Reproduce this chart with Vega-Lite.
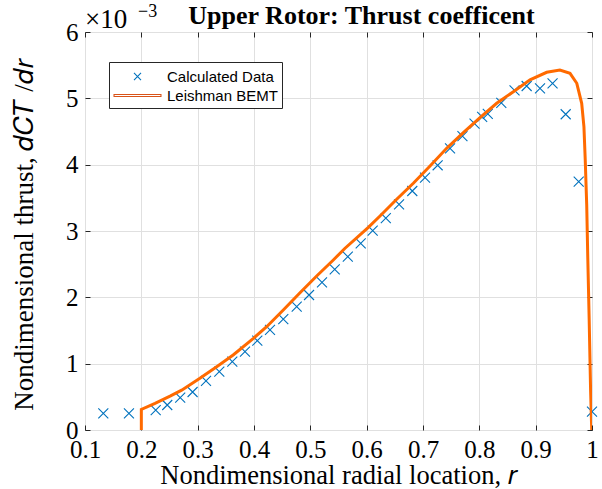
{
  "$schema": "https://vega.github.io/schema/vega-lite/v6.json",
  "width": 507,
  "height": 398,
  "autosize": {"type": "none"},
  "padding": {"left": 85, "top": 32, "right": 10, "bottom": 59},
  "background": "white",
  "config": {"view": {"stroke": "#262626", "strokeWidth": 1}},
  "title": {"text": "Upper Rotor: Thrust coefficent", "font": "Liberation Serif", "fontSize": 26, "fontWeight": "bold", "anchor": "middle", "frame": "group", "dx": 23, "baseline": "alphabetic", "offset": -47, "color": "black"},
  "datasets": {
    "calc": [
      {"r": 0.1325, "dct": 0.252, "series": "Calculated Data"},
      {"r": 0.178, "dct": 0.252, "series": "Calculated Data"},
      {"r": 0.2255, "dct": 0.30, "series": "Calculated Data"},
      {"r": 0.246, "dct": 0.377, "series": "Calculated Data"},
      {"r": 0.269, "dct": 0.487, "series": "Calculated Data"},
      {"r": 0.291, "dct": 0.573, "series": "Calculated Data"},
      {"r": 0.3148, "dct": 0.739, "series": "Calculated Data"},
      {"r": 0.3384, "dct": 0.879, "series": "Calculated Data"},
      {"r": 0.3615, "dct": 1.030, "series": "Calculated Data"},
      {"r": 0.384, "dct": 1.180, "series": "Calculated Data"},
      {"r": 0.4059, "dct": 1.346, "series": "Calculated Data"},
      {"r": 0.4284, "dct": 1.508, "series": "Calculated Data"},
      {"r": 0.452, "dct": 1.673, "series": "Calculated Data"},
      {"r": 0.4758, "dct": 1.859, "series": "Calculated Data"},
      {"r": 0.4977, "dct": 2.035, "series": "Calculated Data"},
      {"r": 0.5207, "dct": 2.227, "series": "Calculated Data"},
      {"r": 0.5433, "dct": 2.423, "series": "Calculated Data"},
      {"r": 0.5665, "dct": 2.613, "series": "Calculated Data"},
      {"r": 0.5894, "dct": 2.815, "series": "Calculated Data"},
      {"r": 0.6107, "dct": 3.005, "series": "Calculated Data"},
      {"r": 0.634, "dct": 3.195, "series": "Calculated Data"},
      {"r": 0.6575, "dct": 3.40, "series": "Calculated Data"},
      {"r": 0.681, "dct": 3.603, "series": "Calculated Data"},
      {"r": 0.7036, "dct": 3.804, "series": "Calculated Data"},
      {"r": 0.726, "dct": 3.991, "series": "Calculated Data"},
      {"r": 0.748, "dct": 4.247, "series": "Calculated Data"},
      {"r": 0.770, "dct": 4.43, "series": "Calculated Data"},
      {"r": 0.7915, "dct": 4.62, "series": "Calculated Data"},
      {"r": 0.805, "dct": 4.72, "series": "Calculated Data"},
      {"r": 0.815, "dct": 4.765, "series": "Calculated Data"},
      {"r": 0.839, "dct": 4.93, "series": "Calculated Data"},
      {"r": 0.8625, "dct": 5.12, "series": "Calculated Data"},
      {"r": 0.884, "dct": 5.186, "series": "Calculated Data"},
      {"r": 0.9077, "dct": 5.151, "series": "Calculated Data"},
      {"r": 0.930, "dct": 5.227, "series": "Calculated Data"},
      {"r": 0.9533, "dct": 4.76, "series": "Calculated Data"},
      {"r": 0.9764, "dct": 3.743, "series": "Calculated Data"},
      {"r": 1.0, "dct": 0.276, "series": "Calculated Data"}
    ],
    "bemt": [
      {"r": 0.2, "dct": 0},
      {"r": 0.2, "dct": 0.31},
      {"r": 0.2243, "dct": 0.40},
      {"r": 0.251, "dct": 0.51},
      {"r": 0.2716, "dct": 0.60},
      {"r": 0.304, "dct": 0.779},
      {"r": 0.3338, "dct": 0.955},
      {"r": 0.363, "dct": 1.131},
      {"r": 0.399, "dct": 1.382},
      {"r": 0.4225, "dct": 1.557},
      {"r": 0.452, "dct": 1.809},
      {"r": 0.4817, "dct": 2.070},
      {"r": 0.5113, "dct": 2.322},
      {"r": 0.5408, "dct": 2.563},
      {"r": 0.5616, "dct": 2.74},
      {"r": 0.603, "dct": 3.056},
      {"r": 0.6237, "dct": 3.226},
      {"r": 0.6533, "dct": 3.478},
      {"r": 0.6828, "dct": 3.719},
      {"r": 0.7125, "dct": 3.98},
      {"r": 0.742, "dct": 4.247},
      {"r": 0.7716, "dct": 4.482},
      {"r": 0.8012, "dct": 4.708},
      {"r": 0.8308, "dct": 4.925},
      {"r": 0.8604, "dct": 5.10},
      {"r": 0.89, "dct": 5.28},
      {"r": 0.9196, "dct": 5.393},
      {"r": 0.943, "dct": 5.427},
      {"r": 0.961, "dct": 5.377},
      {"r": 0.973, "dct": 5.227},
      {"r": 0.9817, "dct": 4.925},
      {"r": 0.9857, "dct": 4.57},
      {"r": 0.988, "dct": 4.07},
      {"r": 0.9906, "dct": 3.4},
      {"r": 0.9925, "dct": 2.6},
      {"r": 0.995, "dct": 1.66},
      {"r": 0.9975, "dct": 0.6},
      {"r": 0.9995, "dct": 0}
    ]
  },
  "resolve": {"axis": {"x": "independent", "y": "independent"}},
  "layer": [
    {
      "data": {"name": "calc"},
      "mark": {"type": "point", "filled": false, "strokeWidth": 1.1, "size": 730, "opacity": 1},
      "encoding": {
        "x": {"field": "r", "type": "quantitative", "scale": {"domain": [0.1, 1], "nice": false, "zero": false},
          "axis": {"orient": "bottom", "values": [0.1, 0.2, 0.3, 0.4, 0.5, 0.6, 0.7, 0.8, 0.9, 1], "format": ".1~f",
            "grid": true, "gridColor": "#e0e0e0", "gridWidth": 1, "domain": false, "ticks": true, "tickSize": -5, "tickColor": "#262626",
            "labelFont": "Liberation Serif", "labelFontSize": 25, "labelColor": "black", "labelPadding": 12, "labelFlush": false, "labelOverlap": false, "labelBound": false,
            "title": "Nondimensional radial location, 𝑟", "titleFont": "Liberation Serif", "titleFontSize": 26.5, "titleFontWeight": "normal", "titleColor": "black",
            "titleY": 53, "titleBaseline": "alphabetic"}},
        "y": {"field": "dct", "type": "quantitative", "scale": {"domain": [0, 6], "nice": false, "zero": false},
          "axis": {"orient": "left", "values": [0, 1, 2, 3, 4, 5, 6], "format": "d",
            "grid": true, "gridColor": "#e0e0e0", "gridWidth": 1, "domain": false, "ticks": true, "tickSize": -5, "tickColor": "#262626",
            "labelFont": "Liberation Serif", "labelFontSize": 25, "labelColor": "black", "labelPadding": 12, "labelFlush": false, "labelOverlap": false, "labelBound": false,
            "title": "Nondimensional thrust, 𝑑𝐶𝑇 /𝑑𝑟", "titleFont": "Liberation Serif", "titleFontSize": 27, "titleFontWeight": "normal", "titleColor": "black",
            "titleX": -53, "titleY": 202, "titleBaseline": "alphabetic", "titleAngle": -90}},
        "color": {"field": "series", "type": "nominal",
          "scale": {"domain": ["Calculated Data", "Leishman BEMT"], "range": ["#0072BD", "#D95319"]},
          "legend": {"orient": "none", "legendX": 24, "legendY": 30, "title": null, "fillColor": "white", "strokeColor": "#262626",
            "padding": 4, "labelFont": "Liberation Sans", "labelFontSize": 15, "labelColor": "black", "labelOffset": 19, "symbolOffset": 14,
            "symbolSize": 361, "symbolStrokeWidth": 1.1, "rowPadding": 0, "symbolFillColor": "transparent"}},
        "shape": {"field": "series", "type": "nominal",
          "scale": {"domain": ["Calculated Data", "Leishman BEMT"], "range": ["M-0.37,-0.37L0.37,0.37M0.37,-0.37L-0.37,0.37", "M-2.47,-0.1L2.47,-0.1L2.47,0.1L-2.47,0.1Z"]}}
      }
    },
    {
      "data": {"name": "bemt"},
      "mark": {"type": "line", "color": "#FF6A00", "strokeWidth": 3, "clip": true},
      "encoding": {
        "x": {"field": "r", "type": "quantitative",
          "axis": {"orient": "top", "values": [0.1, 0.2, 0.3, 0.4, 0.5, 0.6, 0.7, 0.8, 0.9, 1], "labels": false, "grid": false, "domain": false, "tickSize": -5, "tickColor": "#262626", "title": null}},
        "y": {"field": "dct", "type": "quantitative",
          "axis": {"orient": "right", "values": [0, 1, 2, 3, 4, 5, 6], "labels": false, "grid": false, "domain": false, "tickSize": -5, "tickColor": "#262626", "title": null}},
        "order": {"value": null}
      }
    },
    {
      "data": {"values": [{"t": "×10"}]},
      "mark": {"type": "text", "font": "Liberation Serif", "fontSize": 27, "align": "left", "baseline": "alphabetic", "dx": 0, "dy": -4, "color": "black"},
      "encoding": {"x": {"datum": 0.1, "type": "quantitative", "axis": null}, "y": {"datum": 6, "type": "quantitative", "axis": null}, "text": {"field": "t"}}
    },
    {
      "data": {"values": [{"t": "−3"}]},
      "mark": {"type": "text", "font": "Liberation Serif", "fontSize": 18, "align": "left", "baseline": "alphabetic", "dx": 53, "dy": -15, "color": "black"},
      "encoding": {"x": {"datum": 0.1, "type": "quantitative", "axis": null}, "y": {"datum": 6, "type": "quantitative", "axis": null}, "text": {"field": "t"}}
    }
  ]
}
